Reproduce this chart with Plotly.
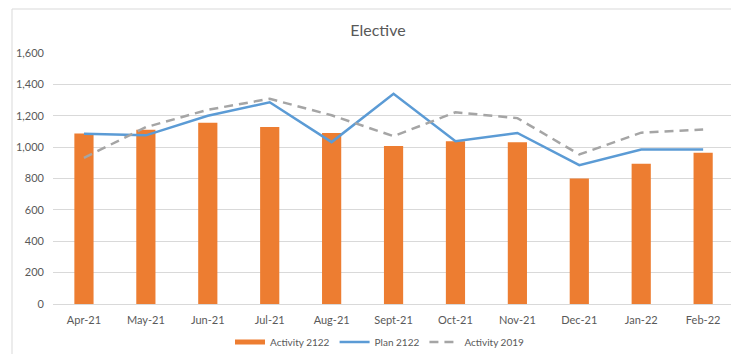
import plotly.graph_objects as go

# Monthly elective activity
months = ["Apr-21", "May-21", "Jun-21", "Jul-21", "Aug-21", "Sept-21",
          "Oct-21", "Nov-21", "Dec-21", "Jan-22", "Feb-22"]
activity_2122 = [1087, 1111, 1155, 1128, 1090, 1007, 1037, 1031, 800, 894, 964]
plan_2122 = [1086, 1075, 1200, 1286, 1032, 1340, 1038, 1090, 885, 985, 985]
activity_2019 = [932, 1127, 1238, 1308, 1203, 1070, 1222, 1185, 953, 1092, 1112]
y_ticks = [0, 200, 400, 600, 800, 1000, 1200, 1400, 1600]

ORANGE = "#ED7D31"
BLUE = "#5B9BD5"
GREY = "#A5A5A5"
TEXT = "#595959"
GRID = "#D9D9D9"
FONT = "Lato, Liberation Sans, sans-serif"

W, H = 731, 354
ML, MR, MT, MB = 53, 0, 53, 50
plot_w = W - ML - MR
plot_h = H - MT - MB

fig = go.Figure()

fig.add_trace(go.Bar(
    x=months, y=activity_2122, name="Activity 2122",
    marker=dict(color=ORANGE, line=dict(width=0)),
    width=0.31, showlegend=False,
))
# wide orange swatch for the bar series in the legend
fig.add_trace(go.Scatter(
    x=[None], y=[None], mode="lines", name="Activity 2122",
    line=dict(color=ORANGE, width=5),
))
fig.add_trace(go.Scatter(
    x=months, y=plan_2122, mode="lines", name="Plan 2122",
    line=dict(color=BLUE, width=2.5),
))
fig.add_trace(go.Scatter(
    x=months, y=activity_2019, mode="lines", name="Activity 2019",
    line=dict(color=GREY, width=2.5, dash="9px,6px"),
))

# chart frame (left and top edges)
bx0 = (12 - ML) / plot_w
by1 = 1 + (MT - 9) / plot_h
fig.add_shape(type="line", xref="paper", yref="paper",
              x0=bx0, x1=bx0, y0=-1, y1=by1, line=dict(color=GRID, width=1))
fig.add_shape(type="line", xref="paper", yref="paper",
              x0=bx0, x1=1.2, y0=by1, y1=by1, line=dict(color=GRID, width=1))

fig.update_layout(
    width=W, height=H,
    margin=dict(l=ML, r=MR, t=MT, b=MB, autoexpand=False),
    paper_bgcolor="white", plot_bgcolor="white",
    font=dict(family=FONT, color=TEXT, size=11),
    title=dict(text="Elective", x=378 / W, xanchor="center",
               y=1 - 30 / H, yanchor="middle",
               font=dict(family=FONT, size=16, color=TEXT)),
    showlegend=True,
    legend=dict(orientation="h", x=(380 - ML) / plot_w, xanchor="center",
                y=-(342 - (H - MB)) / plot_h, yanchor="middle",
                font=dict(family=FONT, size=10, color=TEXT),
                itemwidth=30, traceorder="normal"),
    bargap=0.69,
)

fig.update_xaxes(
    type="category", range=[-0.5, 10.45],
    showgrid=False, showline=True, linecolor=GRID, linewidth=1,
    ticks="", tickfont=dict(family=FONT, size=11, color=TEXT),
    ticklabelstandoff=6,
    fixedrange=True,
)
fig.update_yaxes(
    range=[0, 1600], tickvals=y_ticks, tickformat=",",
    showgrid=True, gridcolor=GRID, gridwidth=1,
    zeroline=False, showline=False, ticks="",
    tickfont=dict(family=FONT, size=11, color=TEXT),
    ticklabelstandoff=8,
    fixedrange=True,
)

fig.write_html("out.html")
